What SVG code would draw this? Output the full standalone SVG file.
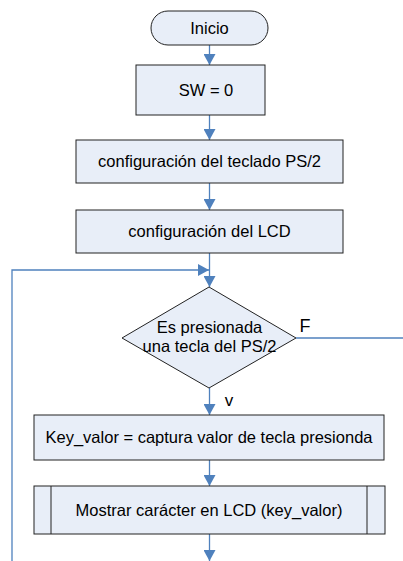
<svg xmlns="http://www.w3.org/2000/svg" width="403" height="561" viewBox="0 0 403 561">
<defs>
<style>
.n{fill:#E8EEF8;stroke:#222;stroke-width:1}
.t{font-family:"Liberation Sans",Arial,sans-serif;font-size:16.5px;fill:#000;text-anchor:middle}
.c{fill:none;stroke:#4F81BD;stroke-width:1.3}
</style>
<marker id="a" markerWidth="12" markerHeight="12" refX="11" refY="6" orient="auto" markerUnits="userSpaceOnUse">
<path d="M0,0 L11,6 L0,12 Z" fill="#4F81BD"/>
</marker>
</defs>
<rect width="403" height="561" fill="#fff"/>
<g id="connectors">
<line class="c" x1="209.5" y1="45" x2="209.5" y2="65" marker-end="url(#a)"/>
<line class="c" x1="209.5" y1="115" x2="209.5" y2="140" marker-end="url(#a)"/>
<line class="c" x1="209.5" y1="183" x2="209.5" y2="210" marker-end="url(#a)"/>
<line class="c" x1="209.5" y1="253" x2="209.5" y2="287" marker-end="url(#a)"/>
<polyline class="c" points="12,561 12,270 209,270" marker-end="url(#a)"/>
<line class="c" x1="296" y1="338" x2="403" y2="338"/>
<line class="c" x1="209.5" y1="388" x2="209.5" y2="415" marker-end="url(#a)"/>
<line class="c" x1="209.5" y1="460" x2="209.5" y2="486" marker-end="url(#a)"/>
<line class="c" x1="209.5" y1="534" x2="209.5" y2="561" marker-end="url(#a)"/>
<text class="t" x="305" y="332" style="font-size:18px">F</text>
<text class="t" x="229" y="406" style="font-size:17px">v</text>
</g>
<g id="inicio">
<rect class="n" x="151" y="11" width="117" height="34" rx="17" ry="17"/>
<text class="t" x="209.5" y="34">Inicio</text>
</g>
<g id="sw">
<rect class="n" x="136" y="65" width="129" height="50"/>
<text class="t" x="206" y="96">SW = 0</text>
</g>
<g id="conf_teclado">
<rect class="n" x="76" y="140" width="267" height="43"/>
<text class="t" x="209.5" y="167">configuración del teclado PS/2</text>
</g>
<g id="conf_lcd">
<rect class="n" x="76" y="210" width="267" height="43"/>
<text class="t" x="209.5" y="237">configuración del LCD</text>
</g>
<g id="decision">
<polygon class="n" points="209,287 296,338 209,388 122,338"/>
<text class="t" x="209.5" y="333">Es presionada</text>
<text class="t" x="209.5" y="352">una tecla del PS/2</text>
</g>
<g id="key_valor">
<rect class="n" x="34" y="415" width="350" height="45"/>
<text class="t" x="209" y="443">Key_valor = captura valor de tecla presionda</text>
</g>
<g id="mostrar">
<rect class="n" x="34" y="486" width="351" height="48"/>
<line class="n" x1="51" y1="486" x2="51" y2="534"/>
<line class="n" x1="367" y1="486" x2="367" y2="534"/>
<text class="t" x="209" y="516">Mostrar carácter en LCD (key_valor)</text>
</g>
</svg>
